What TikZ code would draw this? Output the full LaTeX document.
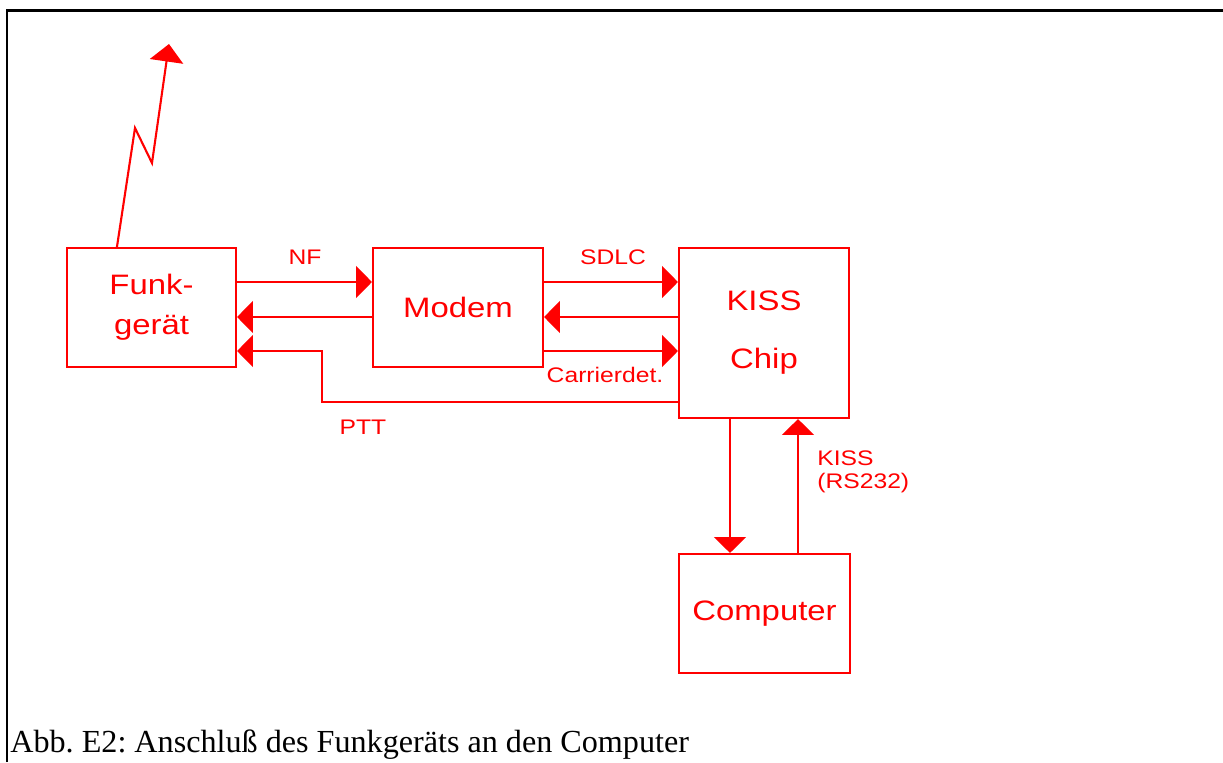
\documentclass[tikz,border=0pt]{standalone}
\usepackage{fontspec}
\setmainfont{Liberation Serif}
\newfontfamily\boxfont[FakeStretch=1.17]{Liberation Sans}
\usepackage{tikz}
\usetikzlibrary{arrows.meta}
\usepackage{xcolor}
\definecolor{wirered}{RGB}{255, 0, 0}

\tikzset{
  blockbox/.style={draw=wirered, line width=1.2pt, text=wirered, inner sep=0pt,
    align=center, font=\boxfont\fontsize{16}{22.7}\selectfont},
  sig/.style={draw=wirered, line width=1.2pt, ->},
  siglabel/.style={text=wirered, inner sep=0pt, font=\boxfont\fontsize{12}{13}\selectfont}
}

\begin{document}
\frenchspacing
\begin{tikzpicture}[x=0.02cm, y=-0.02cm, >={Triangle[length=9pt, width=18pt]}]

  \useasboundingbox (0, 0) rectangle (1223, 762);

  % --- Frame ---
  \draw[line width=1.7pt] (7, 762) -- (7, 10) -- (1223, 10);

  % --- Blocks ---
  \node[blockbox, minimum width=3.38cm, minimum height=2.38cm] (funk) at (151.5, 307.5) {Funk-\\gerät};
  \node[blockbox, minimum width=3.4cm, minimum height=2.38cm] (modem) at (458, 307.5) {Modem};
  \node[blockbox, minimum width=3.4cm, minimum height=3.4cm,
    font=\boxfont\fontsize{16}{33}\selectfont] (kiss) at (764, 333) {KISS\\Chip};
  \node[blockbox, minimum width=3.42cm, minimum height=2.38cm] (comp) at (764.5, 613.5) {Computer};

  % rows and columns of the wires
  \coordinate (rowNF) at (0, 282);
  \coordinate (rowRX) at (0, 317);
  \coordinate (rowCD) at (0, 351);
  \coordinate (rowPTT) at (0, 402);
  \coordinate (colPTT) at (322, 0);
  \coordinate (colDown) at (730, 0);
  \coordinate (colUp) at (798, 0);

  % --- Funkgeraet <-> Modem ---
  \draw[sig] (funk.east |- rowNF) -- (modem.west |- rowNF);
  \draw[sig] (modem.west |- rowRX) -- (funk.east |- rowRX);
  \draw[sig] (kiss.west |- rowPTT) -- (colPTT |- rowPTT) -- (colPTT |- rowCD) -- (funk.east |- rowCD);

  % --- Modem <-> KISS chip ---
  \draw[sig] (modem.east |- rowNF) -- (kiss.west |- rowNF);
  \draw[sig] (kiss.west |- rowRX) -- (modem.east |- rowRX);
  \draw[sig] (modem.east |- rowCD) -- (kiss.west |- rowCD);

  % --- KISS chip <-> Computer ---
  \draw[sig] (kiss.south -| colDown) -- (comp.north -| colDown);
  \draw[sig] (comp.north -| colUp) -- (kiss.south -| colUp);

  % --- Antenna ---
  \draw[sig, -{Triangle[length=10pt, width=19pt]}]
    ([xshift=1.02cm]funk.north west) -- (135, 128) -- (152, 163) -- (169, 44);

  % Labels
  \node[siglabel] (nf) at (305, 257) {NF};
  \node[siglabel] (sdlc) at (613, 257) {SDLC};
  \node[siglabel] (cd) at (605, 375) {Carrierdet.};
  \node[siglabel] (ptt) at (363, 427) {PTT};
  \node[siglabel, anchor=west, align=left] (rs) at (817, 472) {KISS\\(RS232)};

  % Caption
  \node[anchor=base west, inner sep=0pt, font=\fontsize{18.3}{21}\selectfont] (caption)
    at (10, 752) {Abb. E2: Anschluß des Funkgeräts an den Computer};

\end{tikzpicture}
\end{document}
